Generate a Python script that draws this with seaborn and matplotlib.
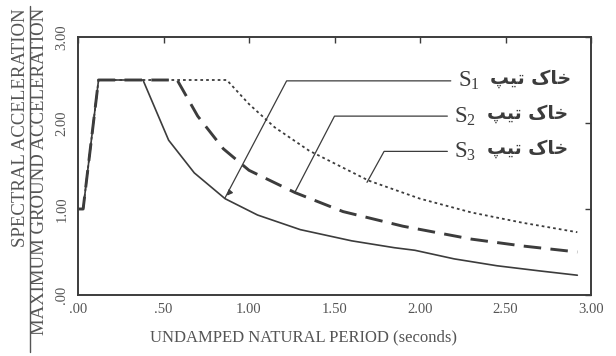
import matplotlib
matplotlib.use("Agg")
import matplotlib.pyplot as plt
import seaborn as sns
import pandas as pd
from matplotlib.lines import Line2D

# ---- data ----
periods_s1 = [0.0, 0.03, 0.12, 0.38, 0.53, 0.68, 0.86, 1.05, 1.30, 1.60, 1.85, 1.97, 2.20, 2.45, 2.70, 2.92]
sa_s1      = [1.0, 1.0, 2.5, 2.5, 1.80, 1.42, 1.12, 0.93, 0.76, 0.63, 0.55, 0.52, 0.42, 0.34, 0.28, 0.23]
periods_s2 = [0.0, 0.03, 0.12, 0.58, 0.70, 0.85, 1.00, 1.27, 1.55, 1.90, 2.30, 2.60, 2.92]
sa_s2      = [1.0, 1.0, 2.5, 2.5, 2.08, 1.70, 1.45, 1.19, 0.97, 0.80, 0.65, 0.57, 0.50]
periods_s3 = [0.0, 0.03, 0.12, 0.87, 1.00, 1.15, 1.35, 1.70, 2.00, 2.30, 2.60, 2.92]
sa_s3      = [1.0, 1.0, 2.5, 2.5, 2.22, 1.95, 1.68, 1.33, 1.12, 0.96, 0.84, 0.73]

series_names = ["S1", "S2", "S3"]
x_ticks = [0.0, 0.5, 1.0, 1.5, 2.0, 2.5, 3.0]
x_tick_labels = [".00", ".50", "1.00", "1.50", "2.00", "2.50", "3.00"]
y_ticks = [0.0, 1.0, 2.0, 3.0]
y_tick_labels = [".00", "1.00", "2.00", "3.00"]
x_label = "UNDAMPED NATURAL PERIOD (seconds)"
y_label_top = "SPECTRAL ACCELERATION"
y_label_bottom = "MAXIMUM GROUND ACCELERATION"
# Persian "خاک تیپ" written in visual (left-to-right) order with presentation forms
persian_label = "\uFB57\uFBFF\uFE97 \uFB8E\uFE8E\uFEA7"
subscripts = ["1", "2", "3"]
# leader lines: (horizontal start T, label y value, tip T, tip SA)
leader_y = [2.49, 2.08, 1.67]
leader_x0 = [1.22, 1.50, 1.79]
leader_x1 = [2.18, 2.16, 2.16]
leader_tip_x = [0.86, 1.27, 1.69]
leader_tip_y = [1.13, 1.20, 1.31]

frames = []
for name, xs, ys in zip(series_names, [periods_s1, periods_s2, periods_s3], [sa_s1, sa_s2, sa_s3]):
    frames.append(pd.DataFrame({"T": xs, "SA": ys, "soil": name}))
df = pd.concat(frames, ignore_index=True)

sns.set_theme(style="white")
plt.rcParams["font.family"] = ["Liberation Serif", "DejaVu Serif"]
plt.rcParams["mathtext.fontset"] = "custom"
plt.rcParams["mathtext.rm"] = "Liberation Serif"

ink = "#3c3c3c"
txt = "#555555"

fig = plt.figure(figsize=(6.16, 3.56), dpi=100)
ax = fig.add_axes([78/616, 1-295/356, (591-78)/616, (295-37)/356])

styles = {
    "S1": dict(lw=1.2, dashes=(None, None)),
    "S2": dict(lw=2.1, dashes=(6, 3.2)),
    "S3": dict(lw=1.3, dashes=(1.5, 1.7)),
}
for name in series_names:
    sub = df[df["soil"] == name]
    st = styles[name]
    sns.lineplot(data=sub, x="T", y="SA", ax=ax, color=ink, lw=st["lw"], sort=False,
                 estimator=None, legend=False)
    line = ax.get_lines()[-1]
    if st["dashes"][0] is not None:
        line.set_dashes(st["dashes"])

# leader lines and labels
for i in range(3):
    ax.plot([leader_x1[i], leader_x0[i], leader_tip_x[i]],
            [leader_y[i], leader_y[i], leader_tip_y[i]], color=ink, lw=0.9)
    if i == 0:
        ax.annotate("", xy=(leader_tip_x[i], leader_tip_y[i]),
                    xytext=(leader_tip_x[i] + 0.03, leader_tip_y[i] + 0.07),
                    arrowprops=dict(arrowstyle="-|>", color=ink, lw=0.9, mutation_scale=8))
    ax.text(leader_x1[i] + 0.04, leader_y[i], r"$\mathrm{S}_{%s}$" % subscripts[i],
            fontsize=16.5, color=ink, va="center", ha="left")
    ax.text(leader_x1[i] + 0.23, leader_y[i] + 0.03, persian_label,
            fontsize=13.5, color=ink, va="center", ha="left",
            family=["DejaVu Sans"], fontweight="bold")

ax.set_xlim(0, 3.0)
ax.set_ylim(0, 3.0)
ax.set_xticks(x_ticks)
ax.set_xticklabels(x_tick_labels)
ax.set_yticks(y_ticks)
ax.set_yticklabels(y_tick_labels, rotation=90, va="center")
ax.tick_params(axis="both", direction="in", length=4, width=1, color=ink,
               labelsize=10.5, labelcolor=txt, top=True, right=True, pad=6)
ax.tick_params(axis="y", pad=7)
ax.set_xlabel("")
ax.set_ylabel("")
for sp in ax.spines.values():
    sp.set_color(ink)
    sp.set_linewidth(1.4)
    sp.set_visible(True)

fig.text(303/616, 1-337/356, x_label, ha="center", va="center", fontsize=12, color=txt)

# fraction-style y label
fig.text(29/616, 1-8/356, y_label_top, rotation=90, ha="right", va="top",
         fontsize=13.5, color=txt)
fig.text(31.5/616, 1-8/356, y_label_bottom, rotation=90, ha="left", va="top",
         fontsize=13.5, color=txt)
fig.add_artist(Line2D([30/616, 30/616], [1-352/356, 1-6/356], color=txt, lw=1.0,
                      transform=fig.transFigure))

fig.savefig("out.png", dpi=100, facecolor="white")
